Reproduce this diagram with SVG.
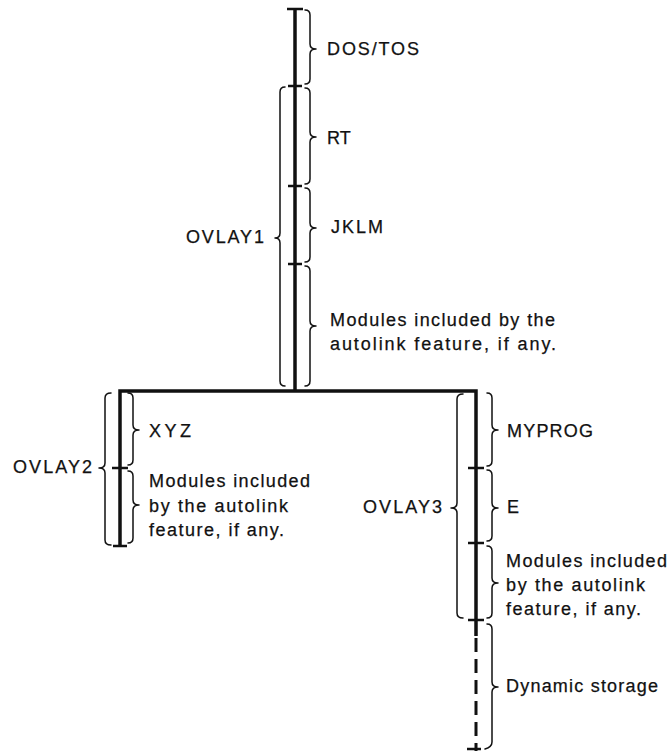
<svg xmlns="http://www.w3.org/2000/svg" width="670" height="751" viewBox="0 0 670 751">
<style>
.t{font-family:"Liberation Sans",Arial,sans-serif;font-size:18px;fill:#111;stroke:#111;stroke-width:0.25}
.bar{stroke:#111;stroke-width:3.5;fill:none;stroke-linecap:butt;stroke-linejoin:miter}
.tick{stroke:#111;stroke-width:2.6;fill:none}
.br{stroke:#111;stroke-width:1.5;fill:none;stroke-linejoin:round;stroke-linecap:round}
.dash{stroke:#111;stroke-width:3;fill:none;stroke-dasharray:14 7}
</style>
<rect width="670" height="751" fill="#fff"/>
<g id="connectors">
<path class="bar" d="M295 9 V391"/>
<path class="bar" d="M120 547 V391 H476 V636"/>
<path class="dash" d="M476 638 V751"/>
<path class="tick" d="M287 9 H303 M288 86 H302 M288 186 H302 M288 264 H302"/>
<path class="tick" d="M112 468 H128 M113 546 H127"/>
<path class="tick" d="M468 468 H484 M468 543 H484 M468 620 H484 M467 749 H481"/>
</g>
<g id="dos-tos">
<path class="br" d="M305 10 Q310 10 310 15 V44 Q310 49 316 49 Q310 49 310 54 V79 Q310 84 305 84"/>
<text class="t" x="327" y="55" textLength="92" lengthAdjust="spacing">DOS/TOS</text>
</g>
<g id="rt">
<path class="br" d="M305 88 Q310 88 310 93 V132 Q310 137 316 137 Q310 137 310 142 V179 Q310 184 305 184"/>
<text class="t" x="327" y="144">RT</text>
</g>
<g id="jklm">
<path class="br" d="M305 188 Q310 188 310 193 V223 Q310 228 316 228 Q310 228 310 233 V257 Q310 262 305 262"/>
<text class="t" x="331" y="233" textLength="52" lengthAdjust="spacing">JKLM</text>
</g>
<g id="autolink1">
<path class="br" d="M305 266 Q310 266 310 271 V321 Q310 326 316 326 Q310 326 310 331 V381 Q310 386 305 386"/>
<text class="t" x="330" y="326" textLength="225" lengthAdjust="spacing">Modules included by the</text>
<text class="t" x="330" y="350" textLength="226" lengthAdjust="spacing">autolink feature, if any.</text>
</g>
<g id="ovlay1">
<path class="br" d="M285 87 Q280 87 280 92 V233 Q280 238 275 238 Q280 238 280 243 V381 Q280 386 285 386"/>
<text class="t" x="186" y="243" textLength="78" lengthAdjust="spacing">OVLAY1</text>
</g>
<g id="ovlay2">
<path class="br" d="M111 393 Q105 393 105 398 V463 Q105 468 99 468 Q105 468 105 473 V540 Q105 545 111 545"/>
<text class="t" x="13" y="473" textLength="79" lengthAdjust="spacing">OVLAY2</text>
</g>
<g id="xyz">
<path class="br" d="M128 393 Q133 393 133 398 V425 Q133 430 139 430 Q133 430 133 435 V460 Q133 465 128 465"/>
<text class="t" x="149" y="437" textLength="42" lengthAdjust="spacing">XYZ</text>
</g>
<g id="autolink2">
<path class="br" d="M128 471 Q133 471 133 476 V500 Q133 505 139 505 Q133 505 133 510 V538 Q133 543 128 543"/>
<text class="t" x="149" y="487" textLength="161" lengthAdjust="spacing">Modules included</text>
<text class="t" x="149" y="512" textLength="139" lengthAdjust="spacing">by the autolink</text>
<text class="t" x="149" y="536" textLength="135" lengthAdjust="spacing">feature, if any.</text>
</g>
<g id="ovlay3">
<path class="br" d="M463 394 Q457 394 457 399 V503 Q457 508 451 508 Q457 508 457 513 V613 Q457 618 463 618"/>
<text class="t" x="363" y="513" textLength="79" lengthAdjust="spacing">OVLAY3</text>
</g>
<g id="myprog">
<path class="br" d="M487 393 Q492 393 492 398 V425 Q492 430 498 430 Q492 430 492 435 V461 Q492 466 487 466"/>
<text class="t" x="507" y="437" textLength="86" lengthAdjust="spacing">MYPROG</text>
</g>
<g id="e">
<path class="br" d="M487 470 Q492 470 492 475 V503 Q492 508 498 508 Q492 508 492 513 V536 Q492 541 487 541"/>
<text class="t" x="507" y="513">E</text>
</g>
<g id="autolink3">
<path class="br" d="M487 546 Q492 546 492 551 V578 Q492 583 498 583 Q492 583 492 588 V613 Q492 618 487 618"/>
<text class="t" x="506" y="567" textLength="161" lengthAdjust="spacing">Modules included</text>
<text class="t" x="506" y="591" textLength="139" lengthAdjust="spacing">by the autolink</text>
<text class="t" x="506" y="615" textLength="135" lengthAdjust="spacing">feature, if any.</text>
</g>
<g id="dynamic">
<path class="br" d="M487 624 Q492 624 492 629 V682 Q492 687 498 687 Q492 687 492 692 V742 Q492 747 485 749"/>
<text class="t" x="506" y="692" textLength="152" lengthAdjust="spacing">Dynamic storage</text>
</g>
</svg>
